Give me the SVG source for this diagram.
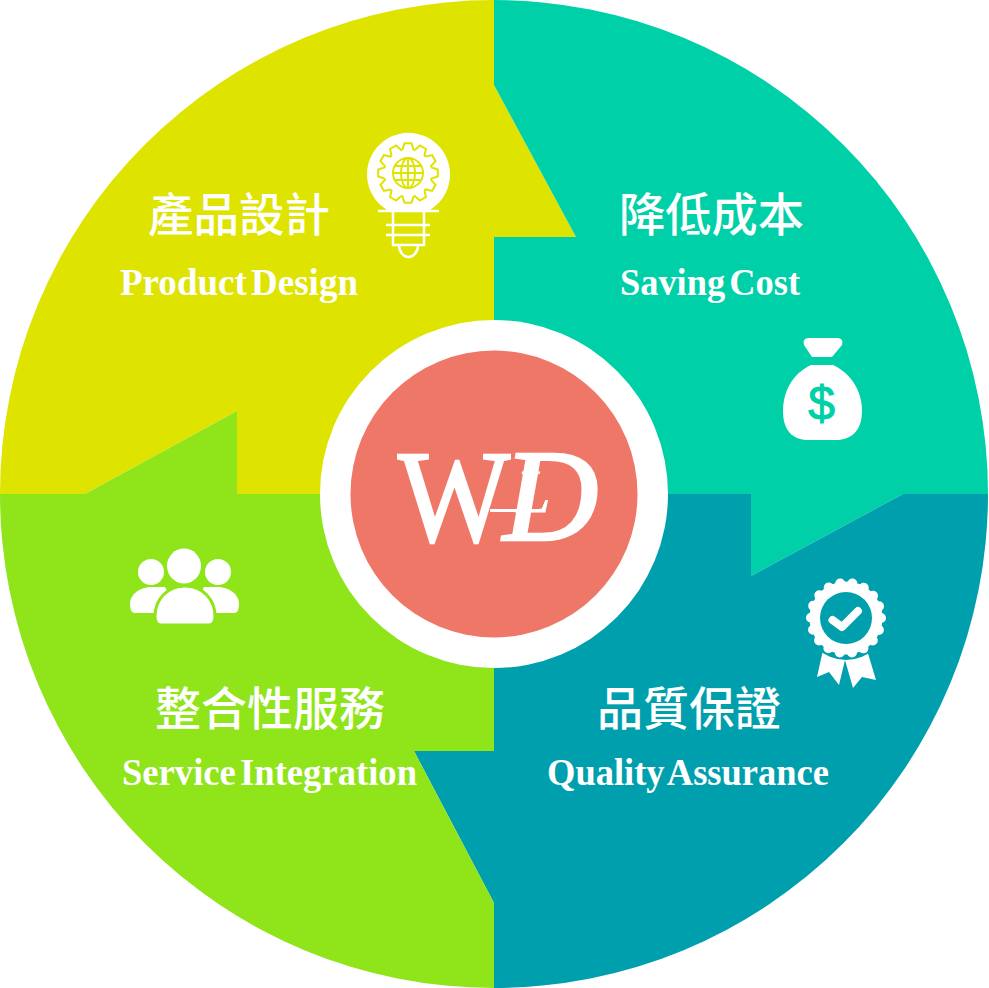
<svg xmlns="http://www.w3.org/2000/svg" xmlns:xlink="http://www.w3.org/1999/xlink" width="989" height="988" viewBox="0 0 989 988">
<style>
.cjk{font-family:"Noto Sans CJK TC","Liberation Sans",sans-serif;font-size:46px;font-weight:500;fill:#fff}
.en{font-family:"Liberation Serif",serif;font-weight:bold;font-size:37px;fill:#fff;word-spacing:-5px}
.logo{font-family:"Liberation Serif",serif;fill:#fff;stroke:#fff;stroke-width:2.5;font-size:132px}
.gear{fill:none;stroke:#dfe300;stroke-width:2}
</style>
<defs><path id="tooth" class="gear" d="M-5.5 -23.4L-3.5 -29.8L3.5 -29.8L5.5 -23.4L6.94 -22.97"/></defs>
<rect width="989" height="988" fill="#fff"/>
<g id="product-design">
<path fill="#dfe300" d="M0 494A494 494 0 0 1 494 0V85L576 237H494V494H237V411L85 494Z"/>
<text class="cjk" x="148" y="231" textLength="182" lengthAdjust="spacingAndGlyphs">產品設計</text>
<text class="en" x="120" y="295" textLength="238" lengthAdjust="spacingAndGlyphs">Product Design</text>
<g id="icon-bulb">
<path fill="#fff" d="M389 211A41.500 41.500 0 1 1 428 211Z"/>
<path fill="none" stroke="#fff" stroke-width="2.500" d="M378 211H439M393 211V245H424V211M386 225H430M386 235H430M399 245A9.500 12 0 0 0 418 245"/>
<g transform="translate(408 173)">
<use xlink:href="#tooth"/><use xlink:href="#tooth" transform="rotate(30)"/><use xlink:href="#tooth" transform="rotate(60)"/><use xlink:href="#tooth" transform="rotate(90)"/><use xlink:href="#tooth" transform="rotate(120)"/><use xlink:href="#tooth" transform="rotate(150)"/><use xlink:href="#tooth" transform="rotate(180)"/><use xlink:href="#tooth" transform="rotate(210)"/><use xlink:href="#tooth" transform="rotate(240)"/><use xlink:href="#tooth" transform="rotate(270)"/><use xlink:href="#tooth" transform="rotate(300)"/><use xlink:href="#tooth" transform="rotate(330)"/>
<circle class="gear" r="15"/><ellipse class="gear" rx="7" ry="15"/>
<path class="gear" d="M0 -15V15M-15 0H15M-13 -7H13M-13 7H13"/>
</g>
</g>
</g>
<g id="saving-cost">
<path fill="#00d0a8" d="M494 0A494 494 0 0 1 988 494H903L751 576V494H494V237H576L494 85Z"/>
<text class="cjk" x="619" y="231" textLength="185" lengthAdjust="spacingAndGlyphs">降低成本</text>
<text class="en" x="620" y="295" textLength="180" lengthAdjust="spacingAndGlyphs">Saving Cost</text>
<g id="icon-money" fill="#fff">
<path d="M808 338H838Q844 339 842 345L832 357H812L804 345Q802 339 808 338Z"/>
<path d="M811 365H833C852 374 862 392 862 411C862 431 851 440 836 440H808C793 440 783 431 783 411C783 392 792 374 811 365Z"/>
<text x="821.500" y="420" font-family="Liberation Sans, sans-serif" font-size="48" stroke="#00d0a8" stroke-width="1" text-anchor="middle" fill="#00d0a8">$</text>
</g>
</g>
<g id="quality-assurance">
<path fill="#009fae" d="M988 494A494 494 0 0 1 494 988V903L414 751H494V494H751V576L903 494Z"/>
<text class="cjk" x="597" y="725" textLength="184" lengthAdjust="spacingAndGlyphs">品質保證</text>
<text class="en" x="547" y="785" textLength="282" lengthAdjust="spacingAndGlyphs">Quality Assurance</text>
<g id="icon-badge">
<path fill="#fff" d="M823 650L817 677L829 672L839 685L845 660L853 688L862 677L876 680L867 650Z"/>
<circle cx="846" cy="618" r="42" fill="#009fae"/>
<circle cx="846" cy="618" r="36.500" fill="#fff"/>
<circle cx="846" cy="618" r="35" fill="none" stroke="#fff" stroke-width="10" stroke-linecap="round" stroke-dasharray="0 12.217"/>
<circle cx="846" cy="618" r="26" fill="#009fae"/>
<path d="M832.500 620L842 627L858 611" fill="none" stroke="#fff" stroke-width="8" stroke-linecap="round" stroke-linejoin="round"/>
</g>
</g>
<g id="service-integration">
<path fill="#8fe41a" d="M494 988A494 494 0 0 1 0 494H85L237 411V494H494V751H414L494 903Z"/>
<text class="cjk" x="155" y="725" textLength="230" lengthAdjust="spacingAndGlyphs">整合性服務</text>
<text class="en" x="122" y="785" textLength="295" lengthAdjust="spacingAndGlyphs">Service Integration</text>
<g id="icon-people" fill="#fff">
<ellipse cx="151" cy="572" rx="13" ry="13"/><ellipse cx="218" cy="572" rx="13" ry="13"/>
<path d="M130 604C130 594 140 587 152 587H165L180 613H135Q130 613 130 604Z"/>
<path d="M239 604C239 594 229 587 217 587H204L190 613H234Q239 613 239 604Z"/>
<ellipse cx="184" cy="566" rx="17" ry="17.500"/>
<path stroke="#8fe41a" stroke-width="3" d="M155 616C155 600 167 586 185 586C203 586 215 600 215 616Q215 625 209 625H161Q155 625 155 616Z"/>
</g>
</g>
<g id="center-wld">
<circle cx="494" cy="494" r="174" fill="#fff"/>
<circle cx="494" cy="494" r="143.500" fill="#ef7768"/>
<text class="logo" transform="translate(398 541) scale(.9 1)">W</text>
<text class="logo" x="503" y="540" font-style="italic">D</text>
<text class="logo" x="516" y="512" font-style="italic" style="font-size:62px;stroke-width:.8">L</text>
<rect x="490" y="509" width="36" height="3" fill="#fff"/>
</g>
<g id="connectors"/>
</svg>
